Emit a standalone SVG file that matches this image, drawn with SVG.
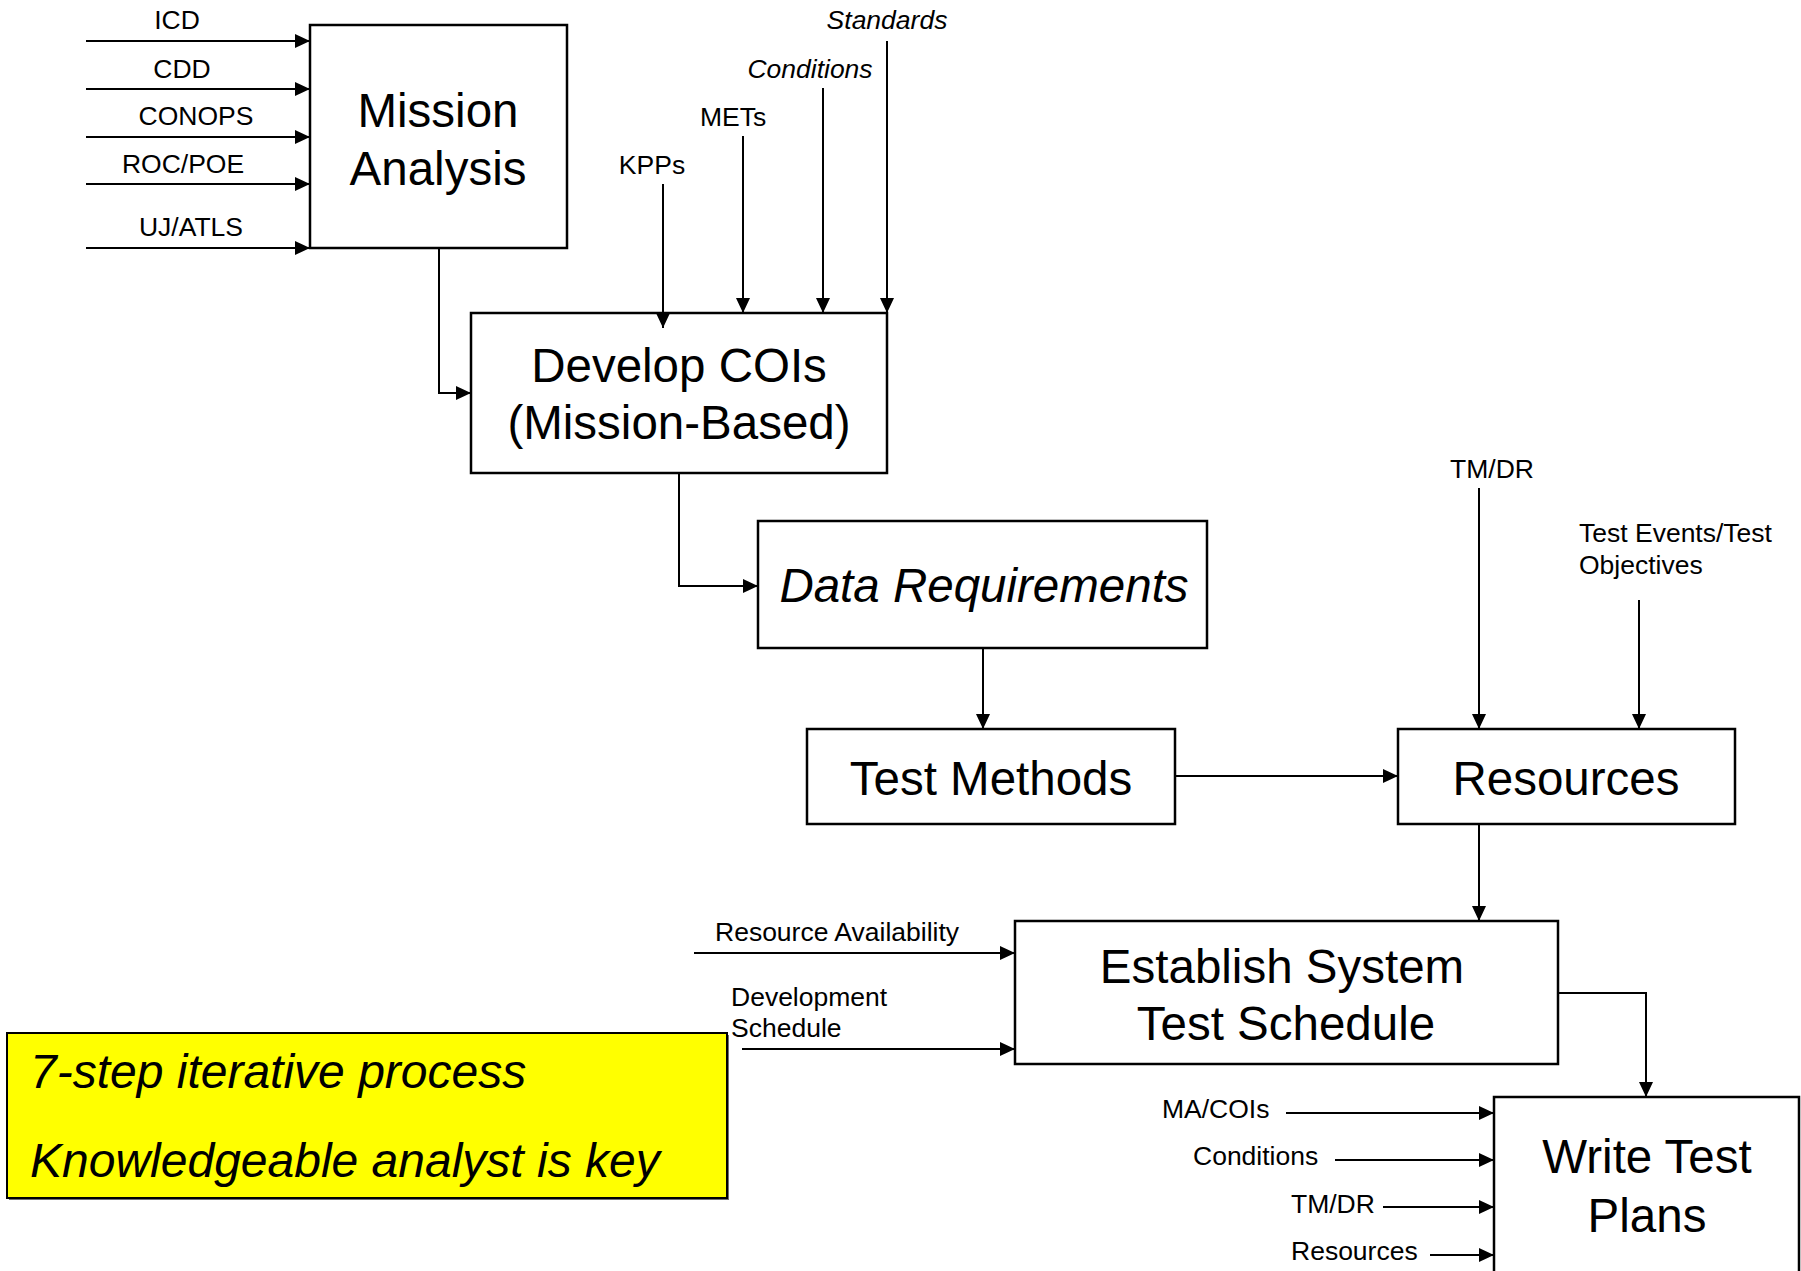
<svg xmlns="http://www.w3.org/2000/svg" width="1801" height="1271" viewBox="0 0 1801 1271">
<defs>
<marker id="ah" markerUnits="userSpaceOnUse" markerWidth="16" markerHeight="14" refX="15" refY="7" orient="auto">
<path d="M0,0 L15,7 L0,14 z" fill="#000"/>
</marker>
<style>
.box{fill:#fff;stroke:#000;stroke-width:2.5}
.big{font-family:"Liberation Sans",Arial,sans-serif;font-size:47.5px;text-anchor:middle;fill:#000}
.lbl{font-family:"Liberation Sans",Arial,sans-serif;font-size:26.5px;fill:#000}
.mid{text-anchor:middle}
.it{font-style:italic}
.c{fill:none;stroke:#000;stroke-width:2;marker-end:url(#ah)}
</style>
</defs>
<rect width="1801" height="1271" fill="#fff"/>

<g id="input-labels">
<text class="lbl mid" x="177" y="29">ICD</text>
<text class="lbl mid" x="182" y="78">CDD</text>
<text class="lbl mid" x="196" y="125">CONOPS</text>
<text class="lbl mid" x="183" y="173">ROC/POE</text>
<text class="lbl mid" x="191" y="236">UJ/ATLS</text>
<text class="lbl mid" x="652" y="174">KPPs</text>
<text class="lbl mid" x="733" y="126">METs</text>
<text class="lbl mid it" x="810" y="78">Conditions</text>
<text class="lbl mid it" x="887" y="29">Standards</text>
<text class="lbl mid" x="1492" y="478">TM/DR</text>
<text class="lbl" x="1579" y="542">Test Events/Test</text>
<text class="lbl" x="1579" y="574">Objectives</text>
<text class="lbl" x="715" y="941">Resource Availability</text>
<text class="lbl" x="731" y="1006">Development</text>
<text class="lbl" x="731" y="1037">Schedule</text>
<text class="lbl" x="1162" y="1118">MA/COIs</text>
<text class="lbl" x="1193" y="1165">Conditions</text>
<text class="lbl" x="1291" y="1213">TM/DR</text>
<text class="lbl" x="1291" y="1260">Resources</text>
</g>

<g id="mission-analysis">
<rect class="box" x="310" y="25" width="257" height="223"/>
<text class="big" x="438" y="127">Mission</text>
<text class="big" x="438" y="185">Analysis</text>
</g>

<g id="develop-cois">
<rect class="box" x="471" y="313" width="416" height="160"/>
<text class="big" x="679" y="382">Develop COIs</text>
<text class="big" x="679" y="439">(Mission-Based)</text>
</g>

<g id="data-requirements">
<rect class="box" x="758" y="521" width="449" height="127"/>
<text class="big it" x="984" y="602">Data Requirements</text>
</g>

<g id="test-methods">
<rect class="box" x="807" y="729" width="368" height="95"/>
<text class="big" x="991" y="795">Test Methods</text>
</g>

<g id="resources">
<rect class="box" x="1398" y="729" width="337" height="95"/>
<text class="big" x="1566" y="795">Resources</text>
</g>

<g id="establish-schedule">
<rect class="box" x="1015" y="921" width="543" height="143"/>
<text class="big" x="1282" y="983">Establish System</text>
<text class="big" x="1286" y="1040">Test Schedule</text>
</g>

<g id="write-test-plans">
<rect class="box" x="1494" y="1097" width="305" height="190"/>
<text class="big" x="1647" y="1173">Write Test</text>
<text class="big" x="1647" y="1232">Plans</text>
</g>

<g id="note">
<rect x="9" y="1035" width="720" height="165" fill="#707070"/>
<rect x="7" y="1033" width="720" height="165" fill="#ffff00" stroke="#000" stroke-width="2"/>
<text class="big it" style="text-anchor:start;font-size:48px" x="30" y="1088">7-step iterative process</text>
<text class="big it" style="text-anchor:start;font-size:48px" x="30" y="1177">Knowledgeable analyst is key</text>
</g>

<g id="connectors">
<path class="c" d="M86,41 H310"/>
<path class="c" d="M86,89 H310"/>
<path class="c" d="M86,137 H310"/>
<path class="c" d="M86,184 H310"/>
<path class="c" d="M86,248 H310"/>
<path class="c" d="M439,248 V393 H471"/>
<path class="c" d="M663,184 V328"/>
<path class="c" d="M743,136 V313"/>
<path class="c" d="M823,88 V313"/>
<path class="c" d="M887,41 V313"/>
<path class="c" d="M679,473 V586 H758"/>
<path class="c" d="M983,648 V729"/>
<path class="c" d="M1175,776 H1398"/>
<path class="c" d="M1479,488 V729"/>
<path class="c" d="M1639,600 V729"/>
<path class="c" d="M1479,824 V921"/>
<path class="c" d="M694,953 H1015"/>
<path class="c" d="M742,1049 H1015"/>
<path class="c" d="M1558,993 H1646 V1097"/>
<path class="c" d="M1286,1113 H1494"/>
<path class="c" d="M1335,1160 H1494"/>
<path class="c" d="M1383,1207 H1494"/>
<path class="c" d="M1430,1255 H1494"/>
</g>
</svg>
